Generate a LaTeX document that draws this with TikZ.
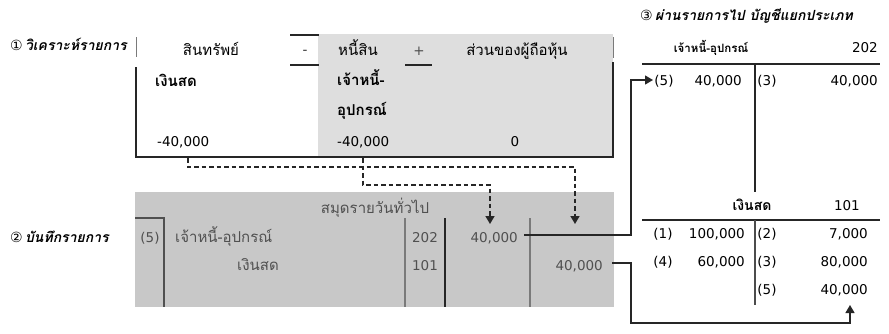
\documentclass[tikz,border=0pt]{standalone}
\usepackage{fontspec}
\setmainfont{DejaVu Sans}
\newfontfamily\thai[Script=Thai]{Loma}
\newfontfamily\circfnt{DejaVu Sans}
\usetikzlibrary{arrows.meta}
\definecolor{topgrey}{HTML}{DEDEDE}
\definecolor{jgrey}{HTML}{C8C8C8}
\definecolor{jtext}{HTML}{505050}
\definecolor{jline}{HTML}{7A7A7A}
\newcommand{\cnum}[1]{{\circfnt\fontsize{14}{17}\selectfont\upshape\mdseries #1}}
\tikzset{
  num/.style={inner sep=0pt,font=\fontsize{13.5}{16}\selectfont},
  th/.style={inner sep=0pt,font=\thai\fontsize{15}{18}\selectfont},
  thb/.style={inner sep=0pt,font=\thai\bfseries\fontsize{15}{18}\selectfont},
  lbl/.style={inner sep=0pt,font=\thai\bfseries\itshape\fontsize{14}{17}\selectfont},
  jt/.style={text=jtext},
  dashconn/.style={dash pattern=on 4.5pt off 3pt,line width=1.5pt,black!85,-{Triangle[length=8pt,width=9pt]}},
  conn/.style={line width=1.3pt,black!85},
  conna/.style={conn,-{Triangle[length=8pt,width=9pt]}},
  dk/.style={line width=1.3pt,black!85},
}
\begin{document}
\begin{tikzpicture}[x=1pt,y=-1pt]
\useasboundingbox (0,0) rectangle (889,333);
% ---------- top: analysis ----------
\fill[topgrey] (318,34) rectangle (613,157);
\node[lbl,anchor=base west] (l1) at (10,50) {\cnum{①}\,วิเคราะห์รายการ};
\draw[jline,line width=1pt] (136,37) -- (136,57);
\draw[jline,line width=1pt] (613,37) -- (613,58);
\node[th,anchor=base] (hA) at (211,55) {สินทรัพย์};
\node[num,anchor=base,text=black!80] (hm) at (305,54) {-};
\draw[dk] (290,35) -- (319,35) (290,65) -- (319,65);
\node[th,anchor=base] (hL) at (358,55) {หนี้สิน};
\node[num,anchor=base,text=black!70] (hp) at (419,55) {+};
\draw[dk] (405,65) -- (432,65);
\node[th,anchor=base] (hE) at (517,55) {ส่วนของผู้ถือหุ้น};
\draw[dk] (136,67) -- (136,157) -- (613,157) -- (613,62);
\node[thb,anchor=base west] (cash) at (155,86) {เงินสด};
\node[num,anchor=base west] (cashv) at (157,146) {-40,000};
\node[thb,anchor=base west] (ap1) at (337,85) {เจ้าหนี้-};
\node[thb,anchor=base west] (ap2) at (337,115) {อุปกรณ์};
\node[num,anchor=base west] (apv) at (337,146) {-40,000};
\node[num,anchor=base] (eqv) at (515,146) {0};
% ---------- journal ----------
\fill[jgrey] (135,192) rectangle (614,307);
\node[lbl,anchor=base west] (l2) at (10,242) {\cnum{②}\,บันทึกรายการ};
\node[th,jt,anchor=base] (jtitle) at (375,213) {สมุดรายวันทั่วไป};
\draw[jtext,line width=1.1pt] (135,218) -- (164,218) -- (164,307);
\draw[jline,line width=1.1pt] (405,218) -- (405,307);
\draw[black!85,line width=1.4pt] (445,218) -- (445,307);
\draw[jline,line width=1.1pt] (530,218) -- (530,307);
\node[num,jt,anchor=base] (jref) at (150,242) {(5)};
\node[th,jt,anchor=base west] (jdr) at (175,242) {เจ้าหนี้-อุปกรณ์};
\node[th,jt,anchor=base west] (jcr) at (237,270) {เงินสด};
\node[num,jt,anchor=base] (j202) at (425,242) {202};
\node[num,jt,anchor=base] (j101) at (425,270) {101};
\node[num,jt,anchor=base east] (jdv) at (518,242) {40,000};
\node[num,jt,anchor=base east] (jcv) at (603,270) {40,000};
% dashed arrows
\coordinate (d1s) at (188,158);
\coordinate (d1e) at (575,224);
\coordinate (d2s) at (363,158);
\coordinate (d2e) at (490,224);
\draw[dashconn] (d1s) -- (188,167) -- (575,167) -- (d1e);
\draw[dashconn] (d2s) -- (363,185) -- (490,185) -- (d2e);
% ---------- ledger ----------
\node[lbl,anchor=base west] (l3) at (640,20) {\cnum{③}\,ผ่านรายการไป บัญชีแยกประเภท};
\node[thb,anchor=base,font=\thai\bfseries\fontsize{11.5}{14}\selectfont] (t1h) at (711,52) {เจ้าหนี้-อุปกรณ์};
\node[num,anchor=base east] (t1n) at (878,52) {202};
\draw[dk] (642,64) -- (880,64);
\draw[dk] (755,64) -- (755,192);
\node[num,anchor=base] (t1r1) at (664,85) {(5)};
\node[num,anchor=base east] (t1v1) at (742,85) {40,000};
\node[num,anchor=base] (t1r2) at (767,85) {(3)};
\node[num,anchor=base east] (t1v2) at (878,85) {40,000};
\node[thb,anchor=base,font=\thai\bfseries\fontsize{14}{17}\selectfont] (t2h) at (752,210) {เงินสด};
\node[num,anchor=base east] (t2n) at (860,210) {101};
\draw[dk] (642,220) -- (880,220);
\draw[black!70,line width=1.1pt] (755,220) -- (755,305);
\node[num,anchor=base] (a1) at (663,238) {(1)};
\node[num,anchor=base east] (a1v) at (745,238) {100,000};
\node[num,anchor=base] (a2) at (767,238) {(2)};
\node[num,anchor=base east] (a2v) at (868,238) {7,000};
\node[num,anchor=base] (a4) at (663,266) {(4)};
\node[num,anchor=base east] (a4v) at (745,266) {60,000};
\node[num,anchor=base] (a3) at (767,266) {(3)};
\node[num,anchor=base east] (a3v) at (868,266) {80,000};
\node[num,anchor=base] (a5) at (767,294) {(5)};
\node[num,anchor=base east] (a5v) at (868,294) {40,000};
% connectors
\coordinate (c1s) at (524,235);
\coordinate (c1e) at (653,80);
\coordinate (c2s) at (612,263);
\coordinate (c2e) at (850,305);
\draw[conna] (c1s) -- (631,235) -- (631,80) -- (c1e);
\draw[conna] (c2s) -- (631,263) -- (631,323) -- (850,323) -- (c2e);
\end{tikzpicture}
\end{document}
